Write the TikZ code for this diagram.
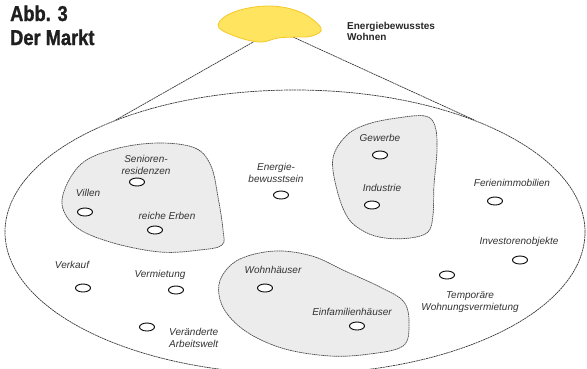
\documentclass[tikz,border=0pt]{standalone}
\usepackage{fontspec}
\setmainfont{Liberation Sans}
\newfontfamily\condfont[FakeStretch=0.85, BoldFeatures={FakeBold=1.2}]{Liberation Sans}
\usetikzlibrary{shapes.geometric}
\definecolor{blobfill}{RGB}{255,228,95}
\definecolor{blobline}{RGB}{245,200,40}
\definecolor{regionfill}{RGB}{236,236,236}
\tikzset{
  lbl/.style={font=\fontsize{10}{11.5}\selectfont\itshape, text=black!80, inner sep=0, align=center},
  dot/.style={ellipse, draw=black, fill=white, line width=0.9pt, minimum width=15pt, minimum height=8pt, inner sep=0},
  region/.style={draw=black!70, fill=regionfill, dash pattern=on 1.6pt off 0.6pt, line width=0.7pt},
  conn/.style={draw=black!78, dash pattern=on 2pt off 0.6pt, line width=0.7pt},
  titlefont/.style={font=\condfont\bfseries\fontsize{21.5}{24}\selectfont, text=black!88, inner sep=0},
}
\begin{document}
\begin{tikzpicture}[x=1pt,y=-1pt]
\useasboundingbox (0,0) rectangle (587,368);
\clip (0,0) rectangle (587,368);

% title
\node[titlefont, anchor=base west] (t1) at (10,21) {Abb. 3};
\node[titlefont, anchor=base west] (t2) at (10,45) {Der Markt};

% big market ellipse
\node[ellipse, conn, fill=white, minimum width=580pt, minimum height=284pt, inner sep=0] (market) at (295,232) {};

% connectors from the blob
\coordinate (bl) at (255,41);
\coordinate (br) at (293,37);
\draw[conn] (bl) -- (market.148);
\draw[conn] (br) -- (market.32);

% yellow blob
\path[draw=blobline, fill=blobfill, line width=0.8pt]
  plot[smooth cycle, tension=0.65] coordinates {(218,25) (234,12) (268,6) (300,12) (321,28) (312,36) (296,37) (278,38) (259,42) (232,35)};
\node[font=\bfseries\fontsize{10}{11.5}\selectfont, text=black!85, align=left, anchor=north west, inner sep=0] (title) at (347,22) {Energiebewusstes\\Wohnen};

% gray regions
\path[region] plot[smooth cycle, tension=0.6] coordinates {(80,165) (115,149) (158,143) (195,148) (211,166) (218,197) (223,230) (222,245) (200,250) (160,252) (110,242) (75,226) (62,200)};
\path[region] plot[smooth cycle, tension=0.6] coordinates {(347,135) (368,124) (397,118) (425,116) (435,126) (437,150) (434,185) (433,215) (428,232) (410,238) (385,238) (365,232) (348,218) (337,190) (333,158)};
\path[region] plot[smooth cycle, tension=0.6] coordinates {(222,276) (240,259) (275,251) (312,256) (345,271) (380,287) (404,302) (409,325) (403,346) (370,354) (330,356) (285,349) (250,334) (228,315) (219,295)};

% labels and dots
\node[lbl] (l_sen) at (146,165) {Senioren-\\residenzen};
\node[dot] (d_sen) at (137,182) {};
\node[lbl] (l_vil) at (88,193) {Villen};
\node[dot] (d_vil) at (85,212) {};
\node[lbl] (l_erb) at (167,216) {reiche Erben};
\node[dot] (d_erb) at (155,230) {};

\node[lbl] (l_ene) at (276,173) {Energie-\\bewusstsein};
\node[dot] (d_ene) at (281,195) {};

\node[lbl] (l_gew) at (380,138) {Gewerbe};
\node[dot] (d_gew) at (380,155) {};
\node[lbl] (l_ind) at (382,188) {Industrie};
\node[dot] (d_ind) at (372,205) {};

\node[lbl] (l_fer) at (512,183) {Ferienimmobilien};
\node[dot] (d_fer) at (495,201) {};
\node[lbl] (l_inv) at (519,242) {Investorenobjekte};
\node[dot] (d_inv) at (520,260) {};
\node[lbl] (l_tem) at (470,302) {Temporäre\\Wohnungsvermietung};
\node[dot] (d_tem) at (447,275) {};

\node[lbl] (l_woh) at (273,270) {Wohnhäuser};
\node[dot] (d_woh) at (265,288) {};
\node[lbl] (l_ein) at (352,312) {Einfamilienhäuser};
\node[dot] (d_ein) at (357,326) {};

\node[lbl] (l_ver) at (72,265) {Verkauf};
\node[dot] (d_ver) at (83,288) {};
\node[lbl] (l_mie) at (160,275) {Vermietung};
\node[dot] (d_mie) at (176,290) {};
\node[lbl, align=left, anchor=west] (l_arb) at (169,338) {Veränderte\\Arbeitswelt};
\node[dot] (d_arb) at (147,327) {};
\end{tikzpicture}
\end{document}
